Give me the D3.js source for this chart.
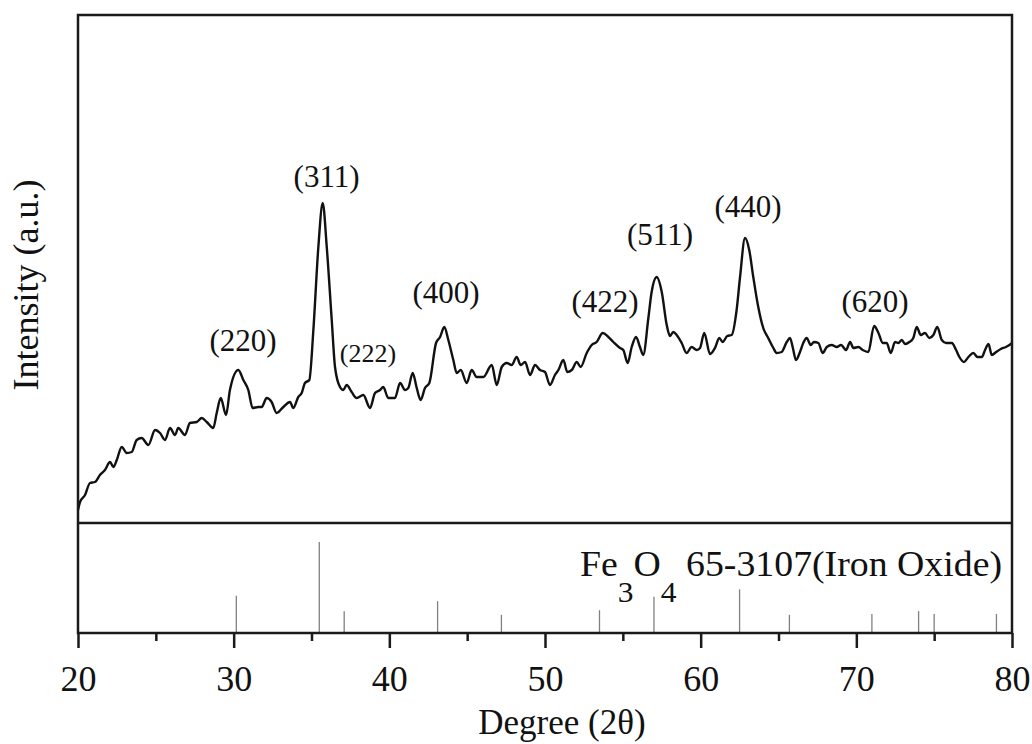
<!DOCTYPE html>
<html>
<head>
<meta charset="utf-8">
<script src="https://cdn.jsdelivr.net/npm/d3@7"></script>
<style>
  body { margin: 0; background: #fff; }
  text { font-family: "Liberation Serif", "Times New Roman", serif; fill: #111; }
</style>
</head>
<body>
<div id="chart"></div>
<script>
// measured pattern: 2-theta (deg) and intensity (a.u.)
var twoTheta = [20.0,20.13,20.45,20.77,21.09,21.41,21.73,22.06,22.27,22.49,22.81,23.13,23.45,23.77,24.09,24.52,24.95,25.27,25.59,25.91,
  26.23,26.44,26.87,27.19,27.63,27.95,28.27,28.69,28.91,29.17,29.51,29.76,30.30,30.62,30.94,31.22,31.58,31.80,32.12,32.44,
  32.76,33.19,33.62,33.83,34.15,34.37,34.58,34.86,35.12,35.44,35.72,35.98,36.30,36.51,36.83,37.04,37.26,37.58,37.90,38.33,
  38.76,39.08,39.40,39.61,39.93,40.36,40.69,41.01,41.22,41.50,41.76,42.01,42.29,42.57,43.00,43.26,43.53,43.79,44.11,44.33,
  44.59,44.97,45.29,45.61,46.04,46.58,46.90,47.22,47.54,47.86,48.18,48.44,48.72,49.04,49.36,49.68,50.00,50.32,50.64,50.86,
  51.18,51.43,51.72,52.04,52.29,52.68,53.00,53.32,53.71,54.07,54.39,54.82,55.03,55.31,55.57,55.85,56.10,56.31,56.64,56.85,
  57.18,57.50,57.82,58.03,58.24,58.46,58.78,59.10,59.42,59.75,59.96,60.23,60.60,60.92,61.20,61.41,61.71,61.99,62.31,62.53,
  62.85,63.12,63.38,63.70,64.02,64.34,64.67,64.88,65.20,65.53,65.74,65.91,66.12,66.38,66.59,66.81,67.07,67.28,67.56,67.84,
  68.10,68.42,68.74,69.02,69.34,69.60,69.81,70.13,70.41,70.77,71.14,71.42,71.70,71.95,72.21,72.49,72.70,72.92,73.13,73.41,
  73.66,73.88,74.14,74.41,74.69,74.95,75.20,75.49,75.77,76.13,76.41,76.62,76.92,77.20,77.52,77.78,78.06,78.27,78.49,78.70,
  78.98,79.28,79.61,79.83,80.0];
var intensity = [13,21,28,40,41,48,53,61,56,63,76,70,71,83,85,78,93,90,83,95,
  88,95,88,100,101,105,101,95,110,125,108,133,153,143,133,115,116,116,125,121,
  110,116,121,115,126,130,140,143,193,276,320,276,203,156,136,133,138,131,125,128,
  115,130,133,136,125,125,140,133,135,150,135,123,135,140,180,186,196,183,163,150,
  153,140,153,146,146,158,138,156,160,158,166,158,161,148,158,153,151,138,148,153,
  163,151,153,161,156,170,178,181,190,186,181,175,173,160,176,186,176,168,205,231,
  246,231,198,187,191,188,180,170,176,173,175,190,169,175,185,181,187,188,213,246,
  285,273,246,216,195,185,175,170,171,181,185,176,163,171,180,185,178,181,180,170,
  176,178,176,178,173,181,175,176,173,171,197,190,180,180,170,181,180,183,179,181,
  185,196,188,190,185,188,196,183,180,180,173,166,161,166,170,166,166,173,179,168,
  171,174,176,178,180];

// peak labels (hkl) with label anchor in data units
var peakLabels = ["(220)","(311)","(222)","(400)","(422)","(511)","(440)","(620)"];
var peakLabelX = [30.60,35.97,38.63,43.64,53.86,57.39,63.04,71.20];
var peakLabelY = [172,336,161,220,211,278,306,211];
var peakLabelSmall = [false,false,true,false,false,false,false,false];

// reference card 65-3107 (Fe3O4) stick pattern
var refPos = [30.17,35.5,37.1,43.1,47.2,53.5,57.0,62.5,65.7,71.0,74.0,75.0,79.0];
var refInt = [41,100,24,35,20,25,40,48,20,21,24,21,21];

var xTicks = [20,30,40,50,60,70,80];
var xMinor = [25,35,45,55,65,75];

var width = 1032, height = 744;
var pad = {left: 78, right: 1012, top: 15, split: 523, bottom: 633};

var svg = d3.select("#chart").append("svg")
  .attr("width", width)
  .attr("height", height);

var x = d3.scaleLinear().domain([20, 80]).range([pad.left, pad.right]);
var yTop = d3.scaleLinear().domain([0, 508]).range([pad.split, pad.top]);
var yBot = d3.scaleLinear().domain([0, 121]).range([pad.bottom, pad.split]);

// XRD curve
var line = d3.line()
  .x(function(d, i) { return x(twoTheta[i]); })
  .y(function(d) { return yTop(d); })
  .curve(d3.curveMonotoneX);

svg.append("path")
  .attr("fill", "none")
  .attr("stroke", "#111")
  .attr("stroke-width", 2.4)
  .attr("stroke-linejoin", "round")
  .attr("d", line(intensity));

// peak labels
svg.selectAll(".peak")
  .data(peakLabels)
  .enter()
  .append("text")
  .attr("class", "peak")
  .attr("x", function(d, i) { return x(peakLabelX[i]); })
  .attr("y", function(d, i) { return yTop(peakLabelY[i]); })
  .attr("text-anchor", "middle")
  .style("font-size", function(d, i) { return peakLabelSmall[i] ? "26px" : "31px"; })
  .text(function(d) { return d; });

// stick pattern
svg.selectAll(".stick")
  .data(refInt)
  .enter()
  .append("line")
  .attr("class", "stick")
  .attr("x1", function(d, i) { return x(refPos[i]); })
  .attr("x2", function(d, i) { return x(refPos[i]); })
  .attr("y1", yBot(0))
  .attr("y2", function(d) { return yBot(d); })
  .attr("stroke", "#808080")
  .attr("stroke-width", 1.3);

// card name, slightly stretched like the original
var card = svg.append("text")
  .attr("transform", "translate(1002,576) scale(1.05,1)")
  .attr("text-anchor", "end")
  .style("font-size", "36px");
card.append("tspan").text("Fe");
card.append("tspan").attr("dy", 26).style("font-size", "30px").text("3");
card.append("tspan").attr("dy", -26).text("O");
card.append("tspan").attr("dy", 26).style("font-size", "30px").text("4");
card.append("tspan").attr("dy", -26).text(" 65-3107(Iron Oxide)");

// frames
var frame = svg.append("g")
  .attr("fill", "none")
  .attr("stroke", "#1a1a1a")
  .attr("stroke-width", 2.5);
frame.append("rect")
  .attr("x", pad.left).attr("y", pad.top)
  .attr("width", pad.right - pad.left).attr("height", pad.bottom - pad.top);
frame.append("line")
  .attr("x1", pad.left).attr("x2", pad.right)
  .attr("y1", pad.split).attr("y2", pad.split);

// bottom axis, ticks pointing out
var xAxis = svg.append("g")
  .attr("transform", "translate(0," + pad.bottom + ")")
  .call(d3.axisBottom(x).tickValues(xTicks).tickSize(15).tickPadding(17).tickFormat(d3.format("d")));
xAxis.select(".domain").remove();
xAxis.selectAll(".tick line").attr("stroke", "#1a1a1a").attr("stroke-width", 2.5);
xAxis.selectAll(".tick text")
  .style("font-size", "36px")
  .style("font-family", "'Liberation Serif', 'Times New Roman', serif")
  .attr("fill", "#111");

svg.append("g")
  .attr("transform", "translate(0," + pad.bottom + ")")
  .call(d3.axisBottom(x).tickValues(xMinor).tickSize(8).tickFormat(""))
  .call(function(g) { g.select(".domain").remove(); })
  .selectAll(".tick line").attr("stroke", "#1a1a1a").attr("stroke-width", 2.5);

// axis titles
svg.append("text")
  .attr("x", (pad.left + pad.right) / 2 + 17)
  .attr("y", 734)
  .attr("text-anchor", "middle")
  .style("font-size", "35px")
  .text("Degree (2\u03B8)");

svg.append("text")
  .attr("transform", "translate(38,285) rotate(-90)")
  .attr("text-anchor", "middle")
  .style("font-size", "36px")
  .text("Intensity (a.u.)");
</script>
</body>
</html>
